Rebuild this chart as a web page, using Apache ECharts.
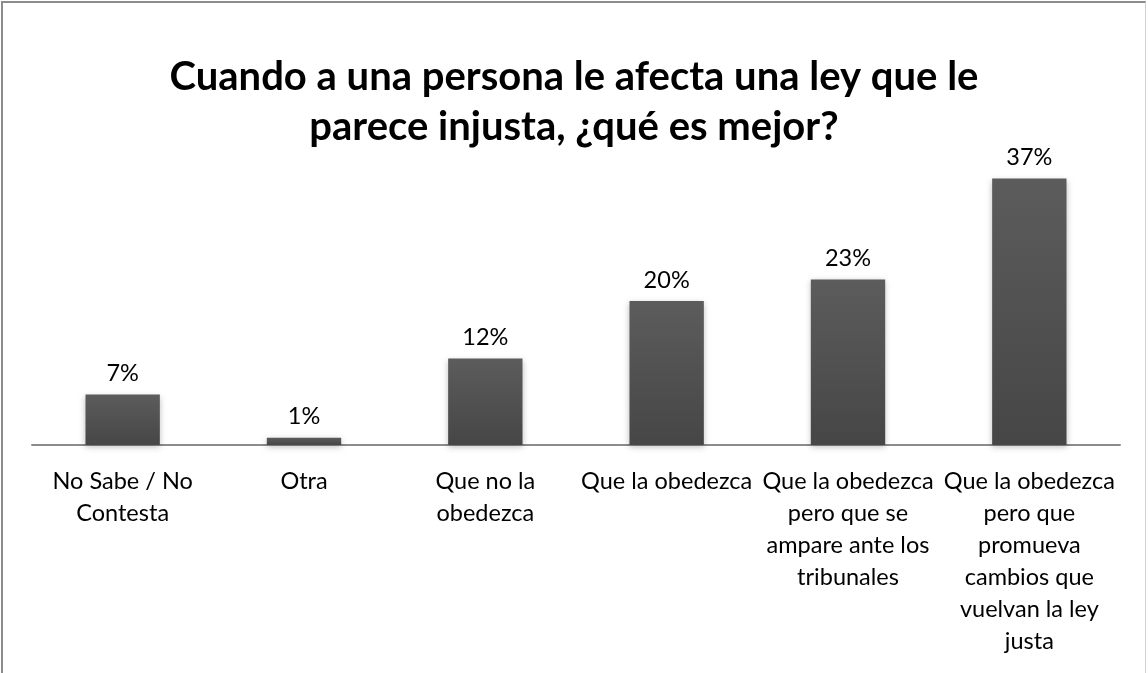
<!DOCTYPE html>
<html>
<head>
<meta charset="utf-8">
<script src="https://cdn.jsdelivr.net/npm/echarts@6/dist/echarts.min.js"></script>
<style>
html, body { margin: 0; padding: 0; background: #fff; }
#frame { position: absolute; left: 1px; top: 1px; width: 1145px; height: 680px;
  border: 2px solid #8c8c8c; border-right: 1px solid #d0d0d0; box-sizing: border-box; }
#main { position: absolute; left: 0; top: 0; width: 1148px; height: 673px; }
</style>
</head>
<body>
<div id="frame"></div>
<div id="main"></div>
<script>
var titleText = 'Cuando a una persona le afecta una ley que le\nparece injusta, ¿qué es mejor?';

// categorias (con saltos de linea como en el original)
var categories = [
  'No Sabe / No\nContesta',
  'Otra',
  'Que no la\nobedezca',
  'Que la obedezca',
  'Que la obedezca\npero que se\nampare ante los\ntribunales',
  'Que la obedezca\npero que\npromueva\ncambios que\nvuelvan la ley\njusta'
];
var values = [7, 1, 12, 20, 23, 37];

var myChart = echarts.init(document.getElementById('main'));

var option = {
  animation: false,
  title: {
    text: titleText,
    left: 'center',
    top: 47,
    textStyle: {
      fontFamily: 'Lato',
      fontWeight: 'bold',
      fontSize: 40,
      lineHeight: 50,
      color: '#000'
    }
  },
  grid: {
    left: 32,
    right: 28,
    top: 157,
    bottom: 228
  },
  xAxis: {
    type: 'category',
    data: categories,
    axisLine: { lineStyle: { color: '#8c8c8c', width: 2 } },
    axisTick: { show: false },
    axisLabel: {
      interval: 0,
      margin: 20,
      fontFamily: 'Lato',
      fontSize: 23.5,
      lineHeight: 32,
      color: '#000'
    }
  },
  yAxis: {
    type: 'value',
    min: 0,
    max: 40,
    show: false,
    splitLine: { show: false }
  },
  series: [{
    type: 'bar',
    data: values,
    barWidth: '41%',
    itemStyle: {
      color: new echarts.graphic.LinearGradient(0, 0, 0, 1, [
        { offset: 0, color: '#5c5c5c' },
        { offset: 1, color: '#464646' }
      ]),
      shadowColor: 'rgba(0,0,0,0.25)',
      shadowBlur: 6,
      shadowOffsetY: 2
    },
    label: {
      show: true,
      position: 'top',
      distance: 9,
      formatter: '{c}%',
      fontFamily: 'Lato',
      fontSize: 23.5,
      color: '#000'
    }
  }]
};

myChart.setOption(option);
</script>
</body>
</html>
